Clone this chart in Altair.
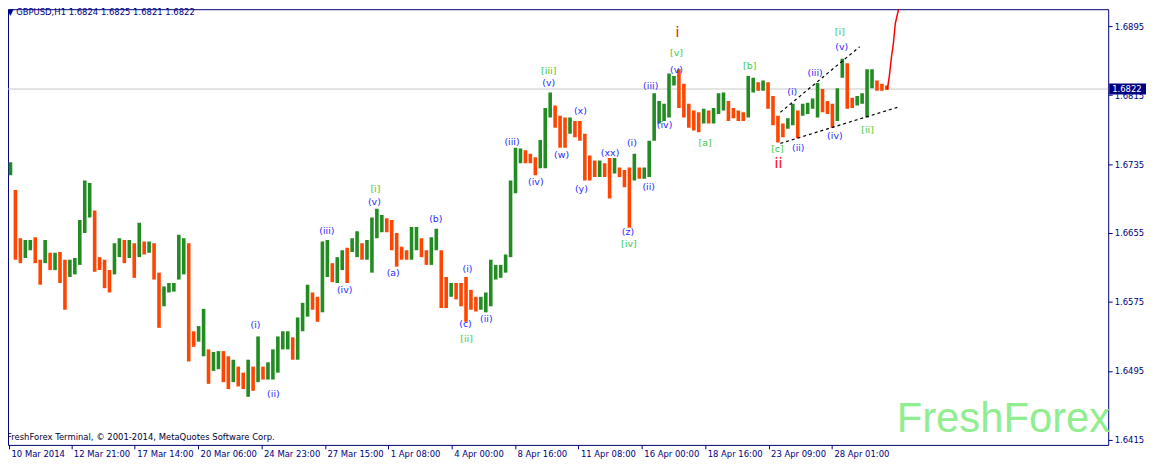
import altair as alt
import pandas as pd

# ---- price bars (each bar = 5 hourly candles aggregated), GBPUSD H1 ----
bar_hours = 5
bar_high = [
    1.6737, 1.6705, 1.6649, 1.6647, 1.6647, 1.6650, 1.6624, 1.6647, 1.6632, 1.6632,
    1.6633, 1.6624, 1.6624, 1.6626, 1.6670, 1.6716, 1.6713, 1.6681, 1.6627, 1.6624,
    1.6612, 1.6643, 1.6649, 1.6647, 1.6647, 1.6643, 1.6667, 1.6645, 1.6645, 1.6643,
    1.6609, 1.6593, 1.6597, 1.6597, 1.6653, 1.6649, 1.6643, 1.6541, 1.6547, 1.6567,
    1.6520, 1.6517, 1.6518, 1.6518, 1.6512, 1.6508, 1.6500, 1.6493, 1.6508, 1.6500,
    1.6535, 1.6500, 1.6505, 1.6520, 1.6535, 1.6541, 1.6541, 1.6534, 1.6557, 1.6574,
    1.6595, 1.6586, 1.6581, 1.6645, 1.6647, 1.6620, 1.6627, 1.6635, 1.6638, 1.6649,
    1.6657, 1.6643, 1.6647, 1.6673, 1.6683, 1.6676, 1.6672, 1.6670, 1.6655, 1.6639,
    1.6635, 1.6662, 1.6662, 1.6649, 1.6635, 1.6650, 1.6660, 1.6635, 1.6604, 1.6597,
    1.6597, 1.6597, 1.6604, 1.6589, 1.6581, 1.6581, 1.6586, 1.6624, 1.6618, 1.6618,
    1.6630, 1.6716, 1.6754, 1.6753, 1.6751, 1.6747, 1.6743, 1.6763, 1.6800, 1.6818,
    1.6803, 1.6791, 1.6789, 1.6789, 1.6785, 1.6785, 1.6770, 1.6745, 1.6739, 1.6739,
    1.6736, 1.6742, 1.6742, 1.6731, 1.6728, 1.6731, 1.6747, 1.6731, 1.6731, 1.6762,
    1.6817, 1.6808, 1.6805, 1.6840, 1.6837, 1.6845, 1.6828, 1.6805, 1.6797, 1.6795,
    1.6799, 1.6797, 1.6800, 1.6817, 1.6818, 1.6808, 1.6800, 1.6797, 1.6795, 1.6837,
    1.6835, 1.6830, 1.6832, 1.6830, 1.6814, 1.6791, 1.6782, 1.6788, 1.6805, 1.6797,
    1.6805, 1.6806, 1.6811, 1.6829, 1.6822, 1.6808, 1.6805, 1.6823, 1.6857, 1.6852,
    1.6812, 1.6814, 1.6817, 1.6845, 1.6845, 1.6832, 1.6828, 1.6826,
]
bar_low = [
    1.6722, 1.6624, 1.6620, 1.6626, 1.6635, 1.6620, 1.6595, 1.6620, 1.6612, 1.6612,
    1.6597, 1.6566, 1.6604, 1.6607, 1.6618, 1.6655, 1.6673, 1.6610, 1.6612, 1.6591,
    1.6586, 1.6607, 1.6627, 1.6620, 1.6626, 1.6603, 1.6627, 1.6630, 1.6632, 1.6601,
    1.6545, 1.6570, 1.6586, 1.6587, 1.6601, 1.6607, 1.6506, 1.6523, 1.6529, 1.6512,
    1.6480, 1.6495, 1.6497, 1.6482, 1.6474, 1.6482, 1.6477, 1.6474, 1.6465, 1.6472,
    1.6482, 1.6485, 1.6485, 1.6485, 1.6493, 1.6520, 1.6520, 1.6508, 1.6508, 1.6541,
    1.6558, 1.6566, 1.6552, 1.6563, 1.6604, 1.6598, 1.6597, 1.6612, 1.6597, 1.6633,
    1.6627, 1.6624, 1.6624, 1.6609, 1.6649, 1.6656, 1.6656, 1.6635, 1.6616, 1.6624,
    1.6624, 1.6624, 1.6635, 1.6627, 1.6618, 1.6618, 1.6635, 1.6568, 1.6568, 1.6581,
    1.6578, 1.6570, 1.6552, 1.6566, 1.6564, 1.6566, 1.6563, 1.6570, 1.6601, 1.6603,
    1.6609, 1.6627, 1.6701, 1.6736, 1.6736, 1.6736, 1.6722, 1.6730, 1.6730, 1.6789,
    1.6777, 1.6754, 1.6754, 1.6770, 1.6766, 1.6762, 1.6716, 1.6716, 1.6720, 1.6720,
    1.6720, 1.6695, 1.6724, 1.6720, 1.6708, 1.6661, 1.6716, 1.6718, 1.6718, 1.6720,
    1.6762, 1.6782, 1.6785, 1.6789, 1.6826, 1.6800, 1.6789, 1.6777, 1.6774, 1.6772,
    1.6782, 1.6782, 1.6782, 1.6793, 1.6797, 1.6785, 1.6788, 1.6785, 1.6785, 1.6789,
    1.6818, 1.6820, 1.6820, 1.6799, 1.6780, 1.6760, 1.6766, 1.6776, 1.6780, 1.6765,
    1.6791, 1.6793, 1.6799, 1.6789, 1.6795, 1.6793, 1.6777, 1.6785, 1.6835, 1.6799,
    1.6800, 1.6803, 1.6805, 1.6789, 1.6823, 1.6820, 1.6820, 1.6821,
]

last_price = 1.6822
title_text = "\u25bc GBPUSD,H1  1.6824 1.6825 1.6821 1.6822"
footer_text = "FreshForex Terminal, \u00a9 2001-2014, MetaQuotes Software Corp."
watermark = "FreshForex"

# projection (red) and wedge trend lines
proj_bar = [888, 890, 892, 894, 896, 900, 902]
proj_price = [1.6822, 1.6837, 1.6858, 1.6874, 1.6898, 1.6918, 1.6926]
wedge_id = ["upper", "upper", "lower", "lower"]
wedge_bar = [780, 860, 780, 899]
wedge_price = [1.6795, 1.6871, 1.6759, 1.6801]

# wave labels
blue_text = ["(i)", "(ii)", "(iii)", "(iv)", "(v)", "(a)", "(b)", "(i)", "(c)", "(ii)",
             "(iii)", "(iv)", "(w)", "(v)", "(x)", "(y)", "(xx)", "(i)", "(ii)", "(z)",
             "(iii)", "(iv)", "(v)", "(i)", "(ii)", "(iii)", "(iv)", "(v)"]
blue_bar = [250, 268, 322, 340, 370, 389, 432, 464, 462, 483,
            509, 533, 559, 546, 578, 579, 608, 630, 647, 626,
            649, 663, 675, 792, 798, 815, 835, 842]
blue_price = [1.6548, 1.6468, 1.6657, 1.6589, 1.6691, 1.6608, 1.6671, 1.6613, 1.6549, 1.6555,
              1.6760, 1.6714, 1.6745, 1.6829, 1.6796, 1.6706, 1.6748, 1.6759, 1.6708, 1.6656,
              1.6826, 1.6780, 1.6844, 1.6818, 1.6753, 1.6841, 1.6767, 1.6871]
green_text = ["[i]", "[ii]", "[iii]", "[iv]", "[v]", "[a]", "[b]", "[c]", "[i]", "[ii]"]
green_bar = [371, 463, 546, 627, 675, 704, 749, 777, 840, 868]
green_price = [1.6706, 1.6532, 1.6843, 1.6642, 1.6864, 1.6759, 1.6849, 1.6752, 1.6888, 1.6775]
red_text = ["i", "ii"]
red_bar = [676, 778]
red_price = [1.6887, 1.6735]

# axes
x_tick_bar = [1, 64, 128, 192, 256, 320, 384, 448, 512, 576, 640, 704, 768, 832]
x_tick_label = ["10 Mar 2014", "12 Mar 21:00", "17 Mar 14:00", "20 Mar 06:00",
                "24 Mar 23:00", "27 Mar 15:00", "1 Apr 08:00", "4 Apr 00:00",
                "8 Apr 16:00", "11 Apr 08:00", "16 Apr 00:00", "18 Apr 16:00",
                "23 Apr 09:00", "28 Apr 01:00"]
y_ticks = [1.6415, 1.6455, 1.6495, 1.6535, 1.6575, 1.6615, 1.6655,
           1.6695, 1.6735, 1.6775, 1.6815, 1.6855, 1.6895]

NAVY = "#000080"
FONT = "DejaVu Sans"
W, H = 1106, 438
x_dom = [0, 1111]
y_dom = [1.64092, 1.69146]

# ---- tables ----
bars = pd.DataFrame({"high": bar_high, "low": bar_low})
bars["bar"] = [bar_hours * i + bar_hours / 2 for i in range(len(bars))]
mid = (bars["high"] + bars["low"]) / 2
bars["dir"] = ["up" if i == 0 or mid[i] >= mid[i - 1] else "down" for i in range(len(bars))]

proj = pd.DataFrame({"bar": proj_bar, "price": proj_price})
wedge = pd.DataFrame({"id": wedge_id, "bar": wedge_bar, "price": wedge_price})
blue = pd.DataFrame({"t": blue_text, "bar": blue_bar, "price": blue_price})
green = pd.DataFrame({"t": green_text, "bar": green_bar, "price": green_price})
red = pd.DataFrame({"t": red_text, "bar": red_bar, "price": red_price})
one = pd.DataFrame({"price": [last_price], "hi": [last_price + 0.00064],
                    "lo": [last_price - 0.00064], "t": [f"{last_price:.4f}"]})

label_expr = " : ".join(f"datum.value == {v} ? '{t}'" for v, t in zip(x_tick_bar, x_tick_label)) + " : ''"

xs = alt.Scale(domain=x_dom, nice=False, zero=False)
ys = alt.Scale(domain=y_dom, nice=False, zero=False)

x_axis = alt.Axis(values=x_tick_bar, labelExpr=label_expr, orient="bottom", labelAlign="left",
                  labelBaseline="top", labelPadding=1, tickSize=4, domain=False, grid=False,
                  labelColor=NAVY, tickColor=NAVY, labelFont=FONT, labelFontSize=8.5,
                  labelFlush=False, labelOverlap=False, labelBound=False, title=None, labelOffset=2)
y_axis = alt.Axis(values=y_ticks, format=".4f", orient="right", tickSize=4, labelPadding=2,
                  domain=False, grid=False, labelColor=NAVY, tickColor=NAVY, labelFont=FONT,
                  labelFontSize=8.5, labelOverlap=False, labelFlush=False, title=None)

hline = alt.Chart(one).mark_rule(color="#c8c8c8", strokeWidth=1).encode(
    x=alt.value(0), x2=alt.value(W), y=alt.Y("price:Q", scale=ys, axis=y_axis))

bar_layer = alt.Chart(bars).mark_rule(strokeWidth=3.6, clip=True).encode(
    x=alt.X("bar:Q", scale=xs, axis=x_axis),
    y=alt.Y("high:Q", scale=ys, axis=y_axis),
    y2="low:Q",
    color=alt.Color("dir:N", scale=alt.Scale(domain=["up", "down", "flat"],
                                             range=["#228b22", "#ff4500", "#000000"]), legend=None),
)

proj_layer = alt.Chart(proj).mark_line(color="#ff0000", strokeWidth=1.5, clip=True).encode(
    x=alt.X("bar:Q", scale=xs), y=alt.Y("price:Q", scale=ys))

wedge_layer = alt.Chart(wedge).mark_line(color="#000000", strokeWidth=1.2, strokeDash=[3, 3], clip=True).encode(
    x=alt.X("bar:Q", scale=xs), y=alt.Y("price:Q", scale=ys), detail="id:N")

def labels(df, color, size):
    return alt.Chart(df).mark_text(color=color, font=FONT, fontSize=size, baseline="middle",
                                   align="center").encode(
        x=alt.X("bar:Q", scale=xs), y=alt.Y("price:Q", scale=ys), text="t:N")

blue_layer = labels(blue, "#2b2bff", 9.5)
green_layer = labels(green, "#3ccc3c", 9.5)
red_layer = labels(red, "#ff0000", 14)

box = alt.Chart(one).mark_rect(color=NAVY).encode(
    x=alt.value(W + 1), x2=alt.value(W + 38), y=alt.Y("hi:Q", scale=ys), y2="lo:Q")
box_text = alt.Chart(one).mark_text(color="white", font=FONT, fontSize=8.5, align="left",
                                    baseline="middle").encode(
    x=alt.value(W + 4), y=alt.Y("price:Q", scale=ys), text="t:N")

title_layer = alt.Chart(one).mark_text(color=NAVY, font=FONT, fontSize=8.5, align="left",
                                       baseline="middle").encode(
    x=alt.value(-1), y=alt.value(3), text=alt.value(title_text))
footer_layer = alt.Chart(one).mark_text(color="#000033", font=FONT, fontSize=8.5, align="left",
                                        baseline="middle").encode(
    x=alt.value(-1), y=alt.value(430), text=alt.value(footer_text))
wm_layer = alt.Chart(one).mark_text(color="#90ee90", font="Liberation Sans", fontSize=42,
                                    align="right", baseline="alphabetic").encode(
    x=alt.value(1108), y=alt.value(425), text=alt.value(watermark))

chart = alt.layer(
    hline, wm_layer, bar_layer, wedge_layer, proj_layer, blue_layer, green_layer, red_layer,
    title_layer, footer_layer, box, box_text,
).properties(width=W, height=H, padding={"left": 0, "top": 0, "right": 38, "bottom": 18},
             autosize=alt.AutoSizeParams(type="none"),
             background="white").configure_view(stroke=NAVY, strokeWidth=1)

chart.save("out.html", embed_options={"renderer": "svg", "actions": False})
